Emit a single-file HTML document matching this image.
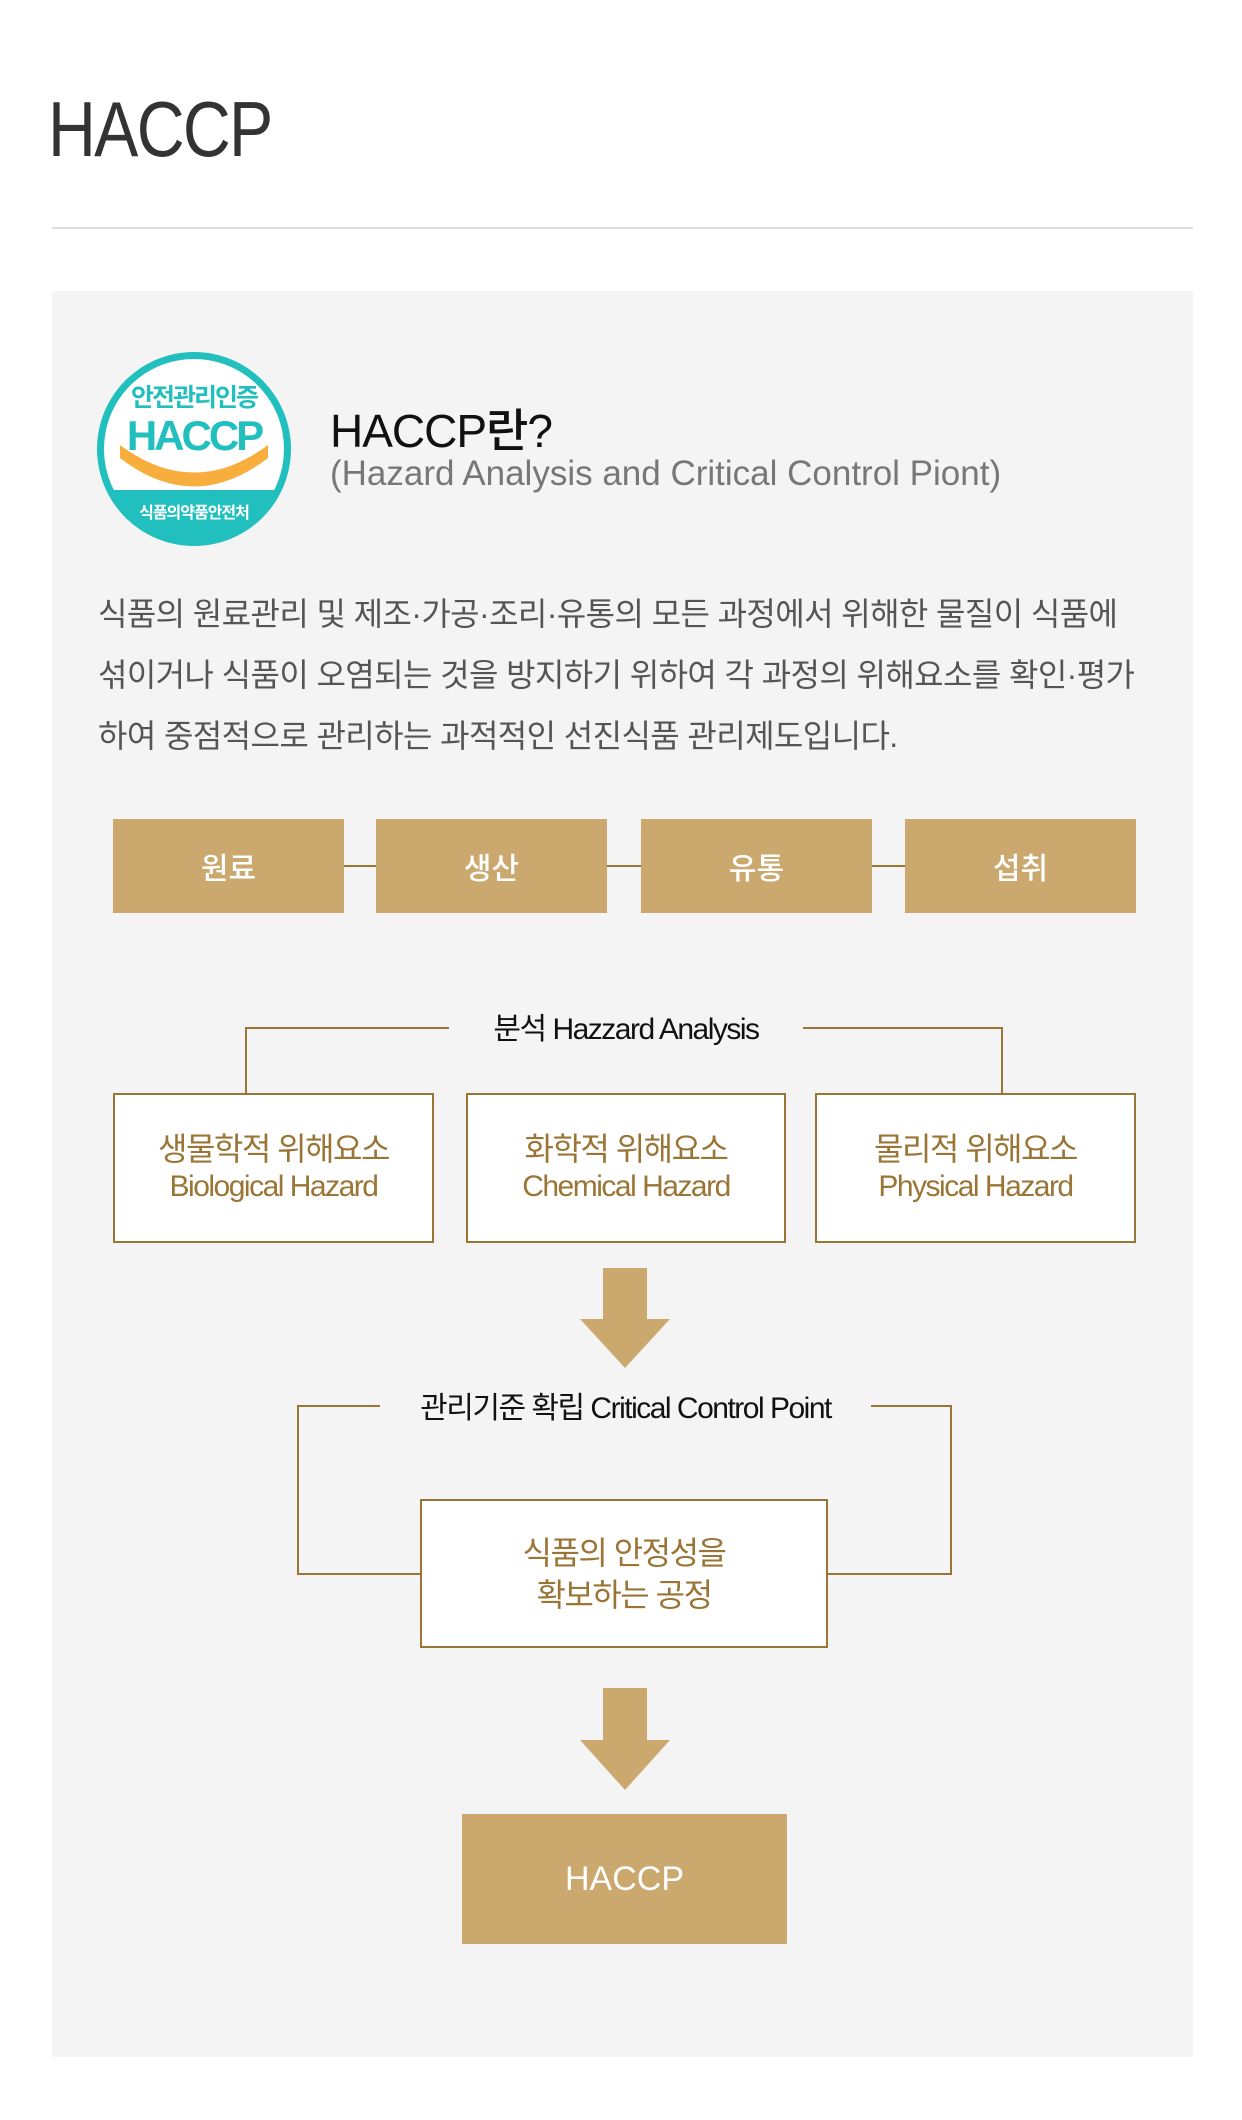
<!DOCTYPE html>
<html><head><meta charset="utf-8"><style>
*{margin:0;padding:0;box-sizing:border-box}
body{width:1242px;height:2120px;background:#fff;position:relative;overflow:hidden;font-family:"Liberation Sans","Noto Sans CJK KR",sans-serif}
.a{position:absolute}
.t{position:absolute;white-space:nowrap}
.gb{position:absolute;background:#cba96e;color:#fff;font-size:30px;display:flex;align-items:center;justify-content:center;font-weight:500}
.wb{position:absolute;background:#fff;border:2.5px solid #9a7535;color:#9a7535;display:flex;flex-direction:column;align-items:center;justify-content:center;text-align:center;line-height:38px;letter-spacing:-1.5px}
</style></head><body>
<div class="t" style="left:48px;top:84px;font-size:78px;color:#333;letter-spacing:-2px;transform:scaleX(.85);transform-origin:left">HACCP</div>
<div class="a" style="left:52px;top:227px;width:1141px;height:2px;background:#ddd"></div>
<div class="a" style="left:52px;top:291px;width:1141px;height:1766px;background:#f4f4f4"></div>

<svg class="a" style="left:0;top:0" width="1242" height="2120">
 <defs><clipPath id="c"><circle cx="194" cy="449" r="92"/></clipPath></defs>
 <circle cx="194" cy="449" r="97" fill="#22bfbf"/>
 <circle cx="194" cy="449" r="90" fill="#fff"/>
 <rect x="90" y="490" width="210" height="70" fill="#22bfbf" clip-path="url(#c)"/>
 <path d="M120 445 Q194 500 268 445 L268 458 Q194 515 120 458 Z" fill="#f7ae3d"/>
 <text x="194" y="406" font-size="25" fill="#22bfbf" text-anchor="middle" font-family="Noto Sans CJK KR" font-weight="bold" letter-spacing="-2">안전관리인증</text>
 <text x="194" y="450" font-size="42" fill="#22bfbf" text-anchor="middle" font-family="Liberation Sans" font-weight="bold" letter-spacing="-3">HACCP</text>
 <text x="194" y="518" font-size="16" fill="#fff" text-anchor="middle" font-family="Noto Sans CJK KR" font-weight="bold" letter-spacing="-1">식품의약품안전처</text>

 <g stroke="#9a7535" stroke-width="2" fill="none">
  <line x1="344" y1="866" x2="376" y2="866"/>
  <line x1="607" y1="866" x2="641" y2="866"/>
  <line x1="872" y1="866" x2="905" y2="866"/>
  <polyline points="449,1028 246,1028 246,1093"/>
  <polyline points="803,1028 1002,1028 1002,1093"/>
  <polyline points="380,1406 298,1406 298,1574 420,1574"/>
  <polyline points="871,1406 951,1406 951,1574 828,1574"/>
 </g>
 <polygon points="603,1268 647,1268 647,1319 670,1319 625,1368 580,1319 603,1319" fill="#cba96e"/>
 <polygon points="603,1688 647,1688 647,1740 670,1740 625,1790 580,1740 603,1740" fill="#cba96e"/>
</svg>

<div class="t" style="left:330px;top:395px;font-size:46px;color:#111;font-weight:500;letter-spacing:-1px">HACCP란?</div>
<div class="t" style="left:330px;top:454px;font-size:35px;color:#777;letter-spacing:0px">(Hazard Analysis and Critical Control Piont)</div>
<div class="t" style="left:98px;top:584px;font-size:32px;color:#555;line-height:61px;letter-spacing:-0.6px">식품의 원료관리 및 제조·가공·조리·유통의 모든 과정에서 위해한 물질이 식품에<br>섞이거나 식품이 오염되는 것을 방지하기 위하여 각 과정의 위해요소를 확인·평가<br>하여 중점적으로 관리하는 과적적인 선진식품 관리제도입니다.</div>

<div class="gb" style="left:113px;top:819px;width:231px;height:94px">원료</div>
<div class="gb" style="left:376px;top:819px;width:231px;height:94px">생산</div>
<div class="gb" style="left:641px;top:819px;width:231px;height:94px">유통</div>
<div class="gb" style="left:905px;top:819px;width:231px;height:94px">섭취</div>

<div class="t" style="left:449px;top:1004px;width:354px;text-align:center;font-size:30px;color:#111;letter-spacing:-1.5px">분석 Hazzard Analysis</div>

<div class="wb" style="left:113px;top:1093px;width:321px;height:150px"><div style="font-size:32px">생물학적 위해요소</div><div style="font-size:30px">Biological Hazard</div></div>
<div class="wb" style="left:466px;top:1093px;width:320px;height:150px"><div style="font-size:32px">화학적 위해요소</div><div style="font-size:30px">Chemical Hazard</div></div>
<div class="wb" style="left:815px;top:1093px;width:321px;height:150px"><div style="font-size:32px">물리적 위해요소</div><div style="font-size:30px">Physical Hazard</div></div>

<div class="t" style="left:380px;top:1383px;width:491px;text-align:center;font-size:30px;color:#111;letter-spacing:-1.5px">관리기준 확립 Critical Control Point</div>

<div class="wb" style="left:420px;top:1499px;width:408px;height:149px;font-size:32px;line-height:42px"><div>식품의 안정성을</div><div>확보하는 공정</div></div>

<div class="gb" style="left:462px;top:1814px;width:325px;height:130px;font-size:34px">HACCP</div>
</body></html>
